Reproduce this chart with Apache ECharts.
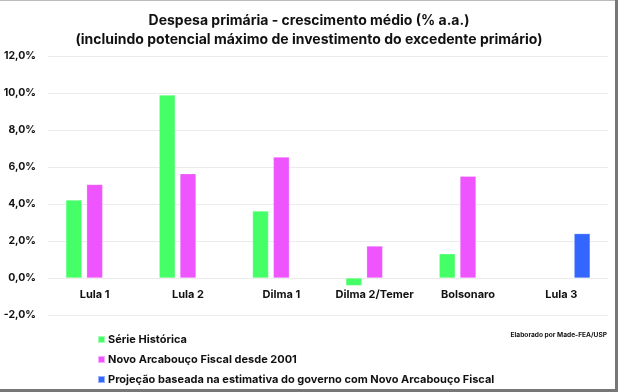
<!DOCTYPE html>
<html><head><meta charset="utf-8">
<script src="https://cdn.jsdelivr.net/npm/echarts@6/dist/echarts.min.js"></script>
<style>html,body{margin:0;padding:0;background:#fff}#c{width:618px;height:392px}</style>
</head><body><div id="c"></div>
<script>
const categories = ['Lula 1','Lula 2','Dilma 1','Dilma 2/Temer','Bolsonaro','Lula 3'];
const serieHistorica = [4.22, 9.89, 3.62, -0.41, 1.31, null];
const novoArcabouco = [5.06, 5.64, 6.54, 1.73, 5.50, null];
const projecao = [null, null, null, null, null, 2.40];
const seriesNames = ['Série Histórica','Novo Arcabouço Fiscal desde 2001','Projeção baseada na estimativa do governo com Novo Arcabouço Fiscal'];
const yTicks = [-2, 0, 2, 4, 6, 8, 10, 12];

const F = 'Inter, "Noto Sans", sans-serif';
const chart = echarts.init(document.getElementById('c'), null, {renderer:'canvas'});
const mk = (name, data, color) => ({
  name, type:'bar', data, barWidth:16, barGap:'30%',
  itemStyle:{color, borderColor:'rgba(255,255,255,0.5)', borderWidth:0.5}
});
chart.setOption({
  animation:false,
  backgroundColor:'#fff',
  title:{
    text:'Despesa primária - crescimento médio (% a.a.)\n(incluindo potencial máximo de investimento do excedente primário)',
    left:'center', top:6,
    textStyle:{fontFamily:F, fontWeight:'bold', fontSize:14, color:'#111', lineHeight:19}
  },
  grid:{left:48, right:10, top:56, bottom:77},
  xAxis:{
    type:'category', data:categories, offset:-37,
    axisLine:{show:false, onZero:false}, axisTick:{show:false},
    axisLabel:{fontFamily:F, fontWeight:'bold', fontSize:11, color:'#111', margin:11, interval:0}
  },
  yAxis:{
    type:'value', min:yTicks[0], max:yTicks[yTicks.length-1], interval:2,
    axisLine:{show:false}, axisTick:{show:false},
    splitLine:{lineStyle:{color:'#ebebeb', width:1}},
    axisLabel:{fontFamily:F, fontWeight:'bold', fontSize:10.5, color:'#111', margin:12,
      formatter:v => v.toFixed(1).replace('.', ',') + '%'}
  },
  legend:{
    orient:'vertical', left:92, top:329, itemGap:9,
    itemWidth:7, itemHeight:7, icon:'rect',
    data:seriesNames,
    textStyle:{fontFamily:F, fontWeight:'bold', fontSize:11, color:'#111', padding:[0,0,0,-2]}
  },
  series:[
    mk(seriesNames[0], serieHistorica, '#44ff66'),
    mk(seriesNames[1], novoArcabouco, '#ee55ff'),
    mk(seriesNames[2], projecao, '#3366ff')
  ],
  graphic:[
    {type:'text', right:11, top:332, style:{text:'Elaborado por Made-FEA/USP', font:'bold 6.6px '+F, fill:'#111'}},
    {type:'rect', left:0, top:0, shape:{width:618, height:1}, style:{fill:'#bbbbbb'}},
    {type:'rect', left:615, top:0, shape:{width:3, height:392}, style:{fill:'#777777'}},
    {type:'rect', left:0, top:389, shape:{width:618, height:3}, style:{fill:'#777777'}}
  ]
});
</script></body></html>
